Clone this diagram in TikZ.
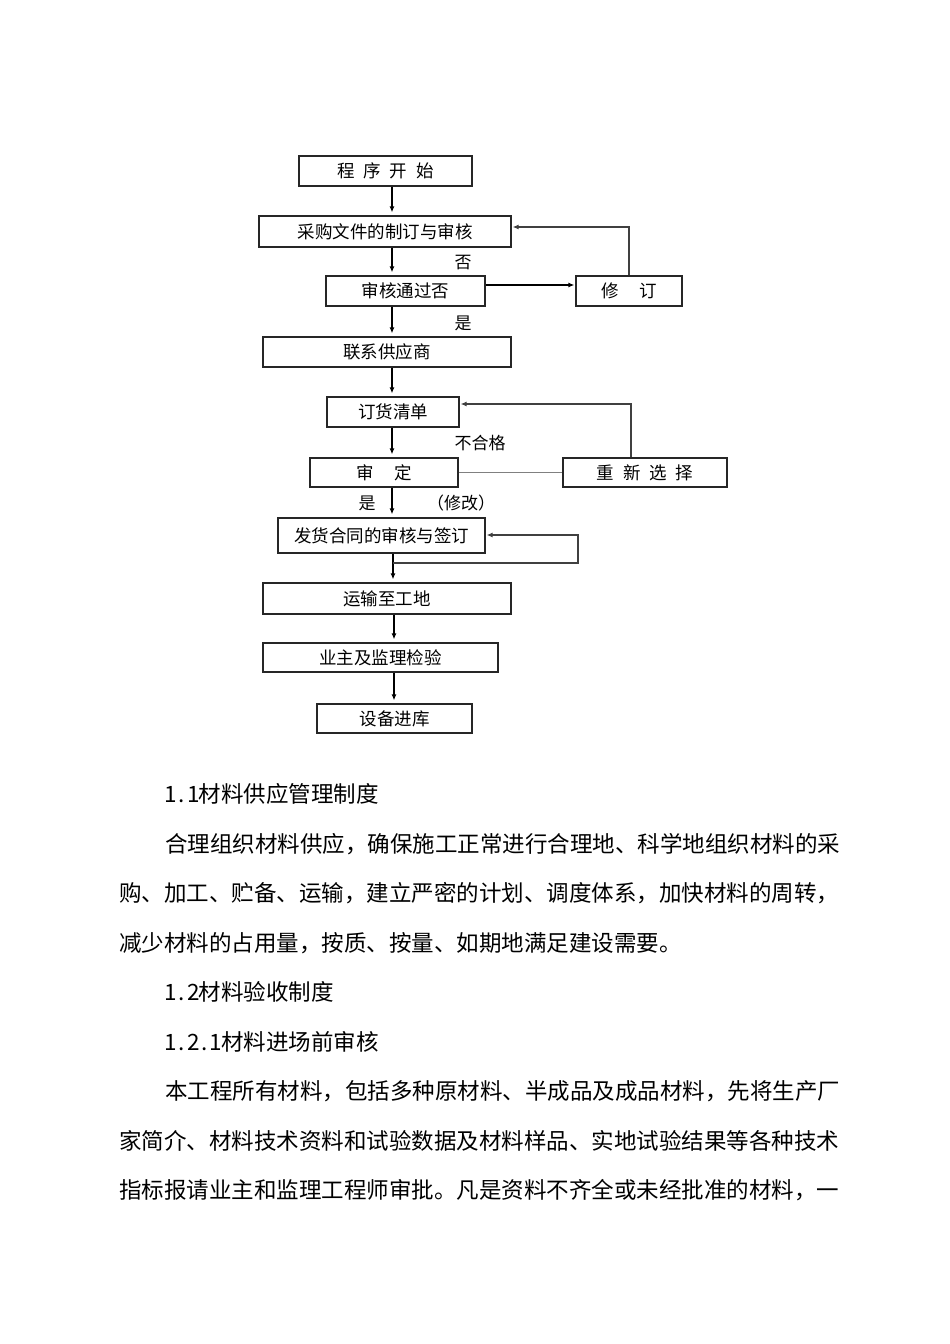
\documentclass[tikz,border=0pt]{standalone}
\usepackage{fontspec}
\setmainfont{Liberation Serif}
\newfontfamily\cjk{Noto Sans CJK SC}
\usetikzlibrary{arrows.meta}
\newcommand{\hwc}[1]{\makebox[11.25pt][c]{#1}}
\begin{document}
\begin{tikzpicture}[x=1pt,y=-1pt,
  box/.style={draw=black!85,line width=1.2pt,inner sep=0pt,font=\cjk\fontsize{17.5}{19}\selectfont},
  arr/.style={line width=1.4pt,-{Latex[length=6pt,width=5pt]},shorten >=3pt},
  fb/.style={line width=1.2pt,draw=black!75},
  lab/.style={inner sep=0pt,font=\cjk\fontsize{17}{19}\selectfont},
  para/.style={anchor=west,inner sep=0pt,text height=0.88em,text depth=0.12em,font=\cjk\fontsize{22.5}{24}\selectfont}]
\useasboundingbox (0,0) rectangle (950,1344);
\fill[white] (0,0) rectangle (950,1344);

% boxes
\node[box,minimum width=173pt,minimum height=30pt] (start) at (385.5,171) {程\hspace{0.5em}序\hspace{0.5em}开\hspace{0.5em}始};
\node[box,minimum width=252pt,minimum height=31pt] (caigou) at (385,231.5) {采购文件的制订与审核};
\node[box,minimum width=159pt,minimum height=30pt] (shenhe) at (405.5,291) {审核通过否};
\node[box,minimum width=106pt,minimum height=30pt] (xiuding) at (629,291) {修\hspace{1.15em}订};
\node[box,minimum width=248pt,minimum height=30pt] (lianxi) at (387,352) {联系供应商};
\node[box,minimum width=132pt,minimum height=30pt] (dinghuo) at (393,412) {订货清单};
\node[box,minimum width=148pt,minimum height=29pt] (shending) at (384,472.5) {审\hspace{1.15em}定};
\node[box,minimum width=164pt,minimum height=29pt] (chongxin) at (645,472.5) {重\hspace{0.5em}新\hspace{0.5em}选\hspace{0.5em}择};
\node[box,minimum width=207pt,minimum height=35pt] (fahuo) at (381.5,535.5) {发货合同的审核与签订};
\node[box,minimum width=248pt,minimum height=31pt] (yunshu) at (387,598.5) {运输至工地};
\node[box,minimum width=235pt,minimum height=29pt] (yezhu) at (380.5,657.5) {业主及监理检验};
\node[box,minimum width=155pt,minimum height=29pt] (shebei) at (394.5,718.5) {设备进库};

% column coordinates
\coordinate (c1) at (392,0);
\coordinate (c2) at (393,0);
\coordinate (c3) at (394,0);

% main arrows
\draw[arr] (start.south -| c1) -- (caigou.north -| c1);
\draw[arr] (caigou.south -| c1) -- (shenhe.north -| c1);
\draw[arr] (shenhe.south -| c1) -- (lianxi.north -| c1);
\draw[arr] (lianxi.south -| c1) -- (dinghuo.north -| c1);
\draw[arr] (dinghuo.south -| c1) -- (shending.north -| c1);
\draw[arr] (shending.south -| c1) -- (fahuo.north -| c1);
\draw[arr] (fahuo.south -| c2) -- (yunshu.north -| c2);
\draw[arr] (yunshu.south -| c3) -- (yezhu.north -| c3);
\draw[arr] (yezhu.south -| c3) -- (shebei.north -| c3);

% side branches
\coordinate (h1) at (0,285);
\draw[arr,line width=1.2pt,shorten >=1pt] (shenhe.east |- h1) -- (xiuding.west |- h1);
\coordinate (f1) at (629,227);
\draw[fb,arr,line width=1.2pt,shorten >=1pt] (xiuding.north) -- (f1) -- (caigou.east |- f1);
\draw[fb,draw=black!50] (shending.east) -- (chongxin.west);
\coordinate (f2) at (631,404);
\draw[fb,arr,line width=1.2pt,shorten >=1pt] (chongxin.north -| f2) -- (f2) -- (dinghuo.east |- f2);
\coordinate (g1) at (393,563);
\coordinate (g2) at (578,563);
\coordinate (g3) at (578,535);
\draw[fb,arr,line width=1.2pt,shorten >=1pt] (g1) -- (g2) -- (g3) -- (fahuo.east |- g3);

% labels
\node[lab] (l1) at (463,263) {否};
\node[lab] (l2) at (463,323) {是};
\node[lab] (l3) at (480,443) {不合格};
\node[lab] (l4) at (367,503) {是};
\node[lab] (l5) at (461,503) {（修改）};

% paragraph text
\node[para] (t1) at (165,799) {\hwc{1}\hwc{.}\hwc{1}材料供应管理制度};
\node[para] (t2) at (165,848.5) {合理组织材料供应，确保施工正常进行合理地、科学地组织材料的采};
\node[para] (t3) at (119,898) {购、加工、贮备、运输，建立严密的计划、调度体系，加快材料的周转，};
\node[para] (t4) at (119,947.5) {减少材料的占用量，按质、按量、如期地满足建设需要。};
\node[para] (t5) at (165,997) {\hwc{1}\hwc{.}\hwc{2}材料验收制度};
\node[para] (t6) at (165,1046.5) {\hwc{1}\hwc{.}\hwc{2}\hwc{.}\hwc{1}材料进场前审核};
\node[para] (t7) at (165,1096) {本工程所有材料，包括多种原材料、半成品及成品材料，先将生产厂};
\node[para] (t8) at (119,1145.5) {家简介、材料技术资料和试验数据及材料样品、实地试验结果等各种技术};
\node[para] (t9) at (119,1195) {指标报请业主和监理工程师审批。凡是资料不齐全或未经批准的材料，一};
\end{tikzpicture}
\end{document}
